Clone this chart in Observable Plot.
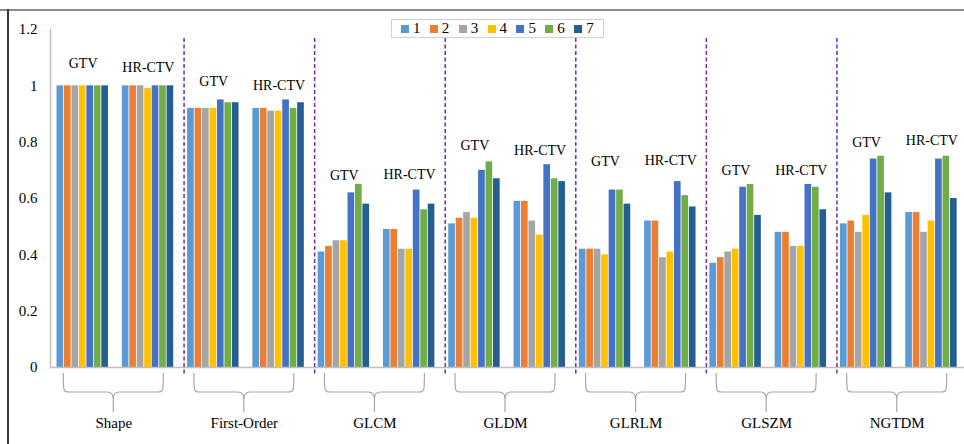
<!DOCTYPE html>
<html><head><meta charset="utf-8">
<script src="https://cdn.jsdelivr.net/npm/d3@7"></script>
<script src="https://cdn.jsdelivr.net/npm/@observablehq/plot@0.6"></script>
<style>
body{margin:0;background:#fff;}
#wrap{position:relative;width:964px;height:444px;overflow:hidden;font-family:"Liberation Serif","Times New Roman",serif;background:#fff;}
#topline{position:absolute;left:0;top:9px;width:964px;height:2px;background:#8c8c8c;}
#leftline{position:absolute;left:7px;top:9px;width:2px;height:435px;background:#3a3a3a;}
#chart{position:absolute;left:0;top:0;}
#legend{position:absolute;left:391px;top:19px;width:202px;height:17px;border:1px solid #d0d0d0;background:#fff;display:flex;align-items:center;padding-left:9px;}
.item{display:flex;align-items:center;width:29.3px;font-size:15px;line-height:15px;color:#000;}
.sw{width:8px;height:8px;margin-right:4px;flex:none;}
</style></head><body>
<div id="wrap"><div id="topline"></div><div id="leftline"></div><div id="chart"></div><div id="legend"></div></div>
<script>
const categories = ["Shape","First-Order","GLCM","GLDM","GLRLM","GLSZM","NGTDM"];
const targets = ["GTV","HR-CTV"];
const seriesNames = ["1","2","3","4","5","6","7"];
const seriesColors = ["#5B9BD5","#ED7D31","#A5A5A5","#FFC000","#4472C4","#70AD47","#255E91"];
const gtvValues = [
  [1.00,1.00,1.00,1.00,1.00,1.00,1.00],
  [0.92,0.92,0.92,0.92,0.95,0.94,0.94],
  [0.41,0.43,0.45,0.45,0.62,0.65,0.58],
  [0.51,0.53,0.55,0.53,0.70,0.73,0.67],
  [0.42,0.42,0.42,0.40,0.63,0.63,0.58],
  [0.37,0.39,0.41,0.42,0.64,0.65,0.54],
  [0.51,0.52,0.48,0.54,0.74,0.75,0.62]
];
const hrctvValues = [
  [1.00,1.00,1.00,0.99,1.00,1.00,1.00],
  [0.92,0.92,0.91,0.91,0.95,0.92,0.94],
  [0.49,0.49,0.42,0.42,0.63,0.56,0.58],
  [0.59,0.59,0.52,0.47,0.72,0.67,0.66],
  [0.52,0.52,0.39,0.41,0.66,0.61,0.57],
  [0.48,0.48,0.43,0.43,0.65,0.64,0.56],
  [0.55,0.55,0.48,0.52,0.74,0.75,0.60]
];
const gtvLabelY = [1.078,1.014,0.681,0.787,0.730,0.699,0.797];
const hrctvLabelY = [1.064,1.002,0.684,0.772,0.736,0.699,0.805];
const yTicks = [0,0.2,0.4,0.6,0.8,1,1.2];
const yTickLabels = ["0","0.2","0.4","0.6","0.8","1","1.2"];

// build tables
const key = (c, t) => c + "|" + t;
const clusters = categories.flatMap(c => targets.map(t => key(c, t)));
const rows = [];
categories.forEach((c, ci) => {
  [gtvValues, hrctvValues].forEach((vals, ti) => {
    vals[ci].forEach((v, si) => rows.push({cluster: key(c, targets[ti]), series: seriesNames[si], value: v}));
  });
});
const labelRows = categories.flatMap((c, ci) => [
  {cluster: key(c, "GTV"), text: "GTV", y: gtvLabelY[ci]},
  {cluster: key(c, "HR-CTV"), text: "HR-CTV", y: hrctvLabelY[ci]}
]);

// layout
const W = 964, H = 444, mL = 50, mR = 0, mT = 29, mB = 77;
const padIn = 0.2, padOut = 0.1;
const step = (W - mL - mR) / (clusters.length - padIn + 2 * padOut);
const bw = step * (1 - padIn);
const stride = bw / 7;
const gapPx = 0.8;

const braces = (index, scales) => {
  const g = d3.create("svg:g").attr("fill", "none").attr("stroke", "#a6a6a6").attr("stroke-width", 1.2);
  const x = scales.x, y = scales.y;
  const b = x.bandwidth ? x.bandwidth() : bw;
  const y0 = y(0) + 6, y1 = y(0) + 25, y2 = y(0) + 45;
  categories.forEach(c => {
    const cx = (x(key(c, "GTV")) + x(key(c, "HR-CTV")) + b) / 2 - 2;
    const L = cx - 50, R = cx + 50;
    g.append("path").attr("d",
      `M${L},${y0} C${L},${y1} ${L},${y1} ${L + 6},${y1} L${cx - 6},${y1} Q${cx},${y1} ${cx},${y1 + 7} L${cx},${y2}` +
      ` M${R},${y0} C${R},${y1} ${R},${y1} ${R - 6},${y1} L${cx + 6},${y1} Q${cx},${y1} ${cx},${y1 + 7}`);
  });
  return g.node();
};

const plot = Plot.plot({
  width: W, height: H,
  marginLeft: mL, marginRight: mR, marginTop: mT, marginBottom: mB,
  style: {fontFamily: "'Liberation Serif','Times New Roman',serif", color: "#000", background: "transparent", overflow: "visible"},
  x: {type: "band", domain: clusters, paddingInner: padIn, paddingOuter: padOut, round: false, axis: null},
  y: {domain: [0, 1.2], axis: null},
  marks: [
    ...seriesNames.map((s, i) => Plot.barY(rows.filter(r => r.series === s), {
      x: "cluster", y: "value", fill: seriesColors[i],
      insetLeft: i * stride, insetRight: (6 - i) * stride + gapPx
    })),
    Plot.frame({anchor: "left", stroke: "#bfbfbf", strokeWidth: 1.5}),
    Plot.ruleY([0], {stroke: "#bfbfbf", strokeWidth: 1.5}),
    Plot.axisY({ticks: yTicks, tickFormat: (d) => yTickLabels[yTicks.indexOf(d)], tickSize: 0, tickPadding: 13, fontSize: 15, label: null}),
    Plot.ruleX(categories.slice(0, -1), {
      x: d => key(d, "HR-CTV"), dx: step / 2 + 3,
      stroke: "#7030A0", strokeWidth: 1.5, strokeDasharray: "4,2.5",
      insetTop: 9, insetBottom: -7
    }),
    Plot.text(labelRows, {x: "cluster", y: "y", text: "text", fontSize: 14, fill: "#000"}),
    Plot.text(categories, {x: d => key(d, "GTV"), frameAnchor: "bottom", dx: step / 2 - 2, dy: 60, text: d => d, fontSize: 15, fill: "#000"}),
    braces
  ]
});
document.getElementById("chart").appendChild(plot);

const legend = d3.select("#legend");
seriesNames.forEach((s, i) => {
  const it = legend.append("div").attr("class", "item");
  it.append("div").attr("class", "sw").style("background", seriesColors[i]);
  it.append("span").text(s);
});
</script>
</body></html>
